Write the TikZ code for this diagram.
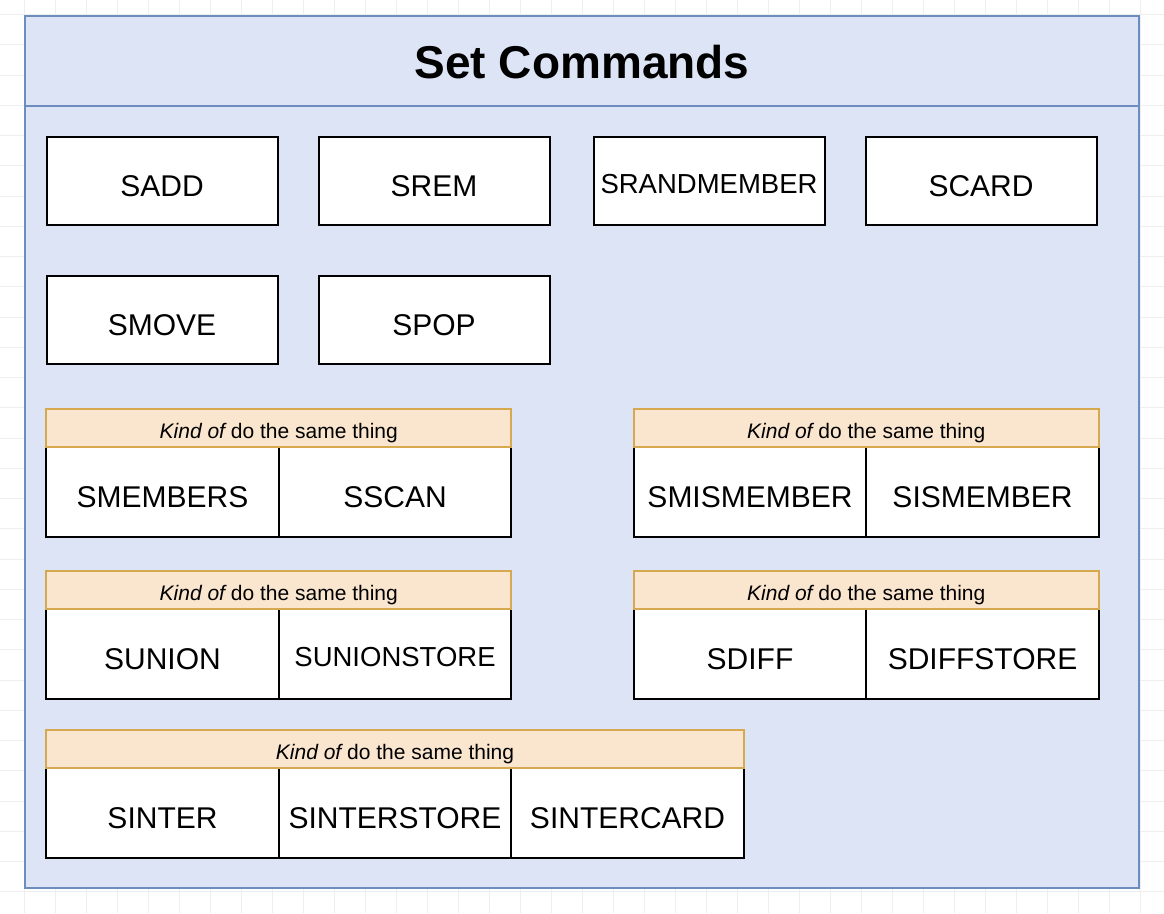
\documentclass[tikz,border=0pt]{standalone}
\usepackage{fontspec}
\setmainfont{Liberation Sans}
\usetikzlibrary{positioning}

\definecolor{setfill}{RGB}{220,228,245}
\definecolor{setline}{RGB}{108,142,191}
\definecolor{kindfill}{RGB}{250,230,207}
\definecolor{kindline}{RGB}{214,168,80}
\definecolor{gridgray}{RGB}{238,238,238}

\begin{document}
\begin{tikzpicture}[
                x = 1pt, y = -1pt, % one unit per pixel, y downwards
                node distance = 41pt, % gap between boxes
                line width = 2pt % line style
            ]

            \tikzstyle{cmd}=[draw = black, fill = white, rectangle, inner sep = 0pt,
            outer sep = 0pt, minimum width = 231pt, minimum height = 88pt,
            text height = 30.5pt, text depth = 0pt,
            font = \fontsize{30}{36}\selectfont]
            \tikzstyle{cell}=[cmd, minimum width = 232.5pt, minimum height = 90pt]
            \tikzstyle{longname}=[font = \fontsize{27.5}{33}\selectfont,
            text height = 25pt]
            \tikzstyle{kind}=[draw = kindline, fill = kindfill, rectangle, inner sep = 0pt,
            outer sep = 0pt, minimum height = 38pt, anchor = south west,
            text height = 21pt, text depth = 0pt,
            font = \fontsize{21}{25}\selectfont]

            \useasboundingbox (0,0) rectangle (1164,913);
            \fill[white] (0,0) rectangle (1164,913);

            % faint background grid
            \foreach \x in {24,55,...,1164} \draw[gridgray, line width = 0.8pt] (\x,0) -- (\x,913);
            \foreach \y in {14.5,44.75,...,913} \draw[gridgray, line width = 0.8pt] (0,\y) -- (1164,\y);

            % container
            \draw[setline, fill = setfill] (25,16) rectangle (1139,888);
            \draw[setline] (25,106) -- (1139,106);
            \node (title) at (582,62) {\fontsize{46}{54}\selectfont\bfseries Set Commands};

            % single commands
            \node (sadd) [cmd] at (162,181) {SADD}; \node (srem) [cmd, right=of sadd] {SREM};
            \node (srand) [cmd, longname, right=44pt of srem] {SRANDMEMBER};
            \node (scard) [cmd, right=of srand] {SCARD};
            \node (smove) [cmd, below=51pt of sadd] {SMOVE}; \node (spop) [cmd,
            right=of smove] {SPOP};

            % groups
            \node (smembers) [cell] at (162.5,492) {SMEMBERS}; \node (sscan) [cell,
            right=0pt of smembers] {SSCAN};
            \node (kind1) [kind, minimum width = 465pt] at (smembers.north west)
            {{\itshape Kind of} do the same thing};

            \node (smismember) [cell] at (750,492) {SMISMEMBER}; \node (sismember)
            [cell, right=0pt of smismember] {SISMEMBER};
            \node (kind2) [kind, minimum width = 465pt] at (smismember.north west)
            {{\itshape Kind of} do the same thing};

            \node (sunion) [cell] at (162.5,654) {SUNION}; \node (sunionstore) [cell,
            longname, right=0pt of sunion] {SUNIONSTORE};
            \node (kind3) [kind, minimum width = 465pt] at (sunion.north west)
            {{\itshape Kind of} do the same thing};

            \node (sdiff) [cell] at (750,654) {SDIFF}; \node (sdiffstore) [cell,
            right=0pt of sdiff] {SDIFFSTORE};
            \node (kind4) [kind, minimum width = 465pt] at (sdiff.north west)
            {{\itshape Kind of} do the same thing};

            \node (sinter) [cell] at (162.5,813) {SINTER}; \node (sinterstore) [cell,
            right=0pt of sinter] {SINTERSTORE}; \node (sintercard) [cell,
            right=0pt of sinterstore] {SINTERCARD};
            \node (kind5) [kind, minimum width = 697.5pt] at (sinter.north west)
            {{\itshape Kind of} do the same thing};

        \end{tikzpicture}
\end{document}
